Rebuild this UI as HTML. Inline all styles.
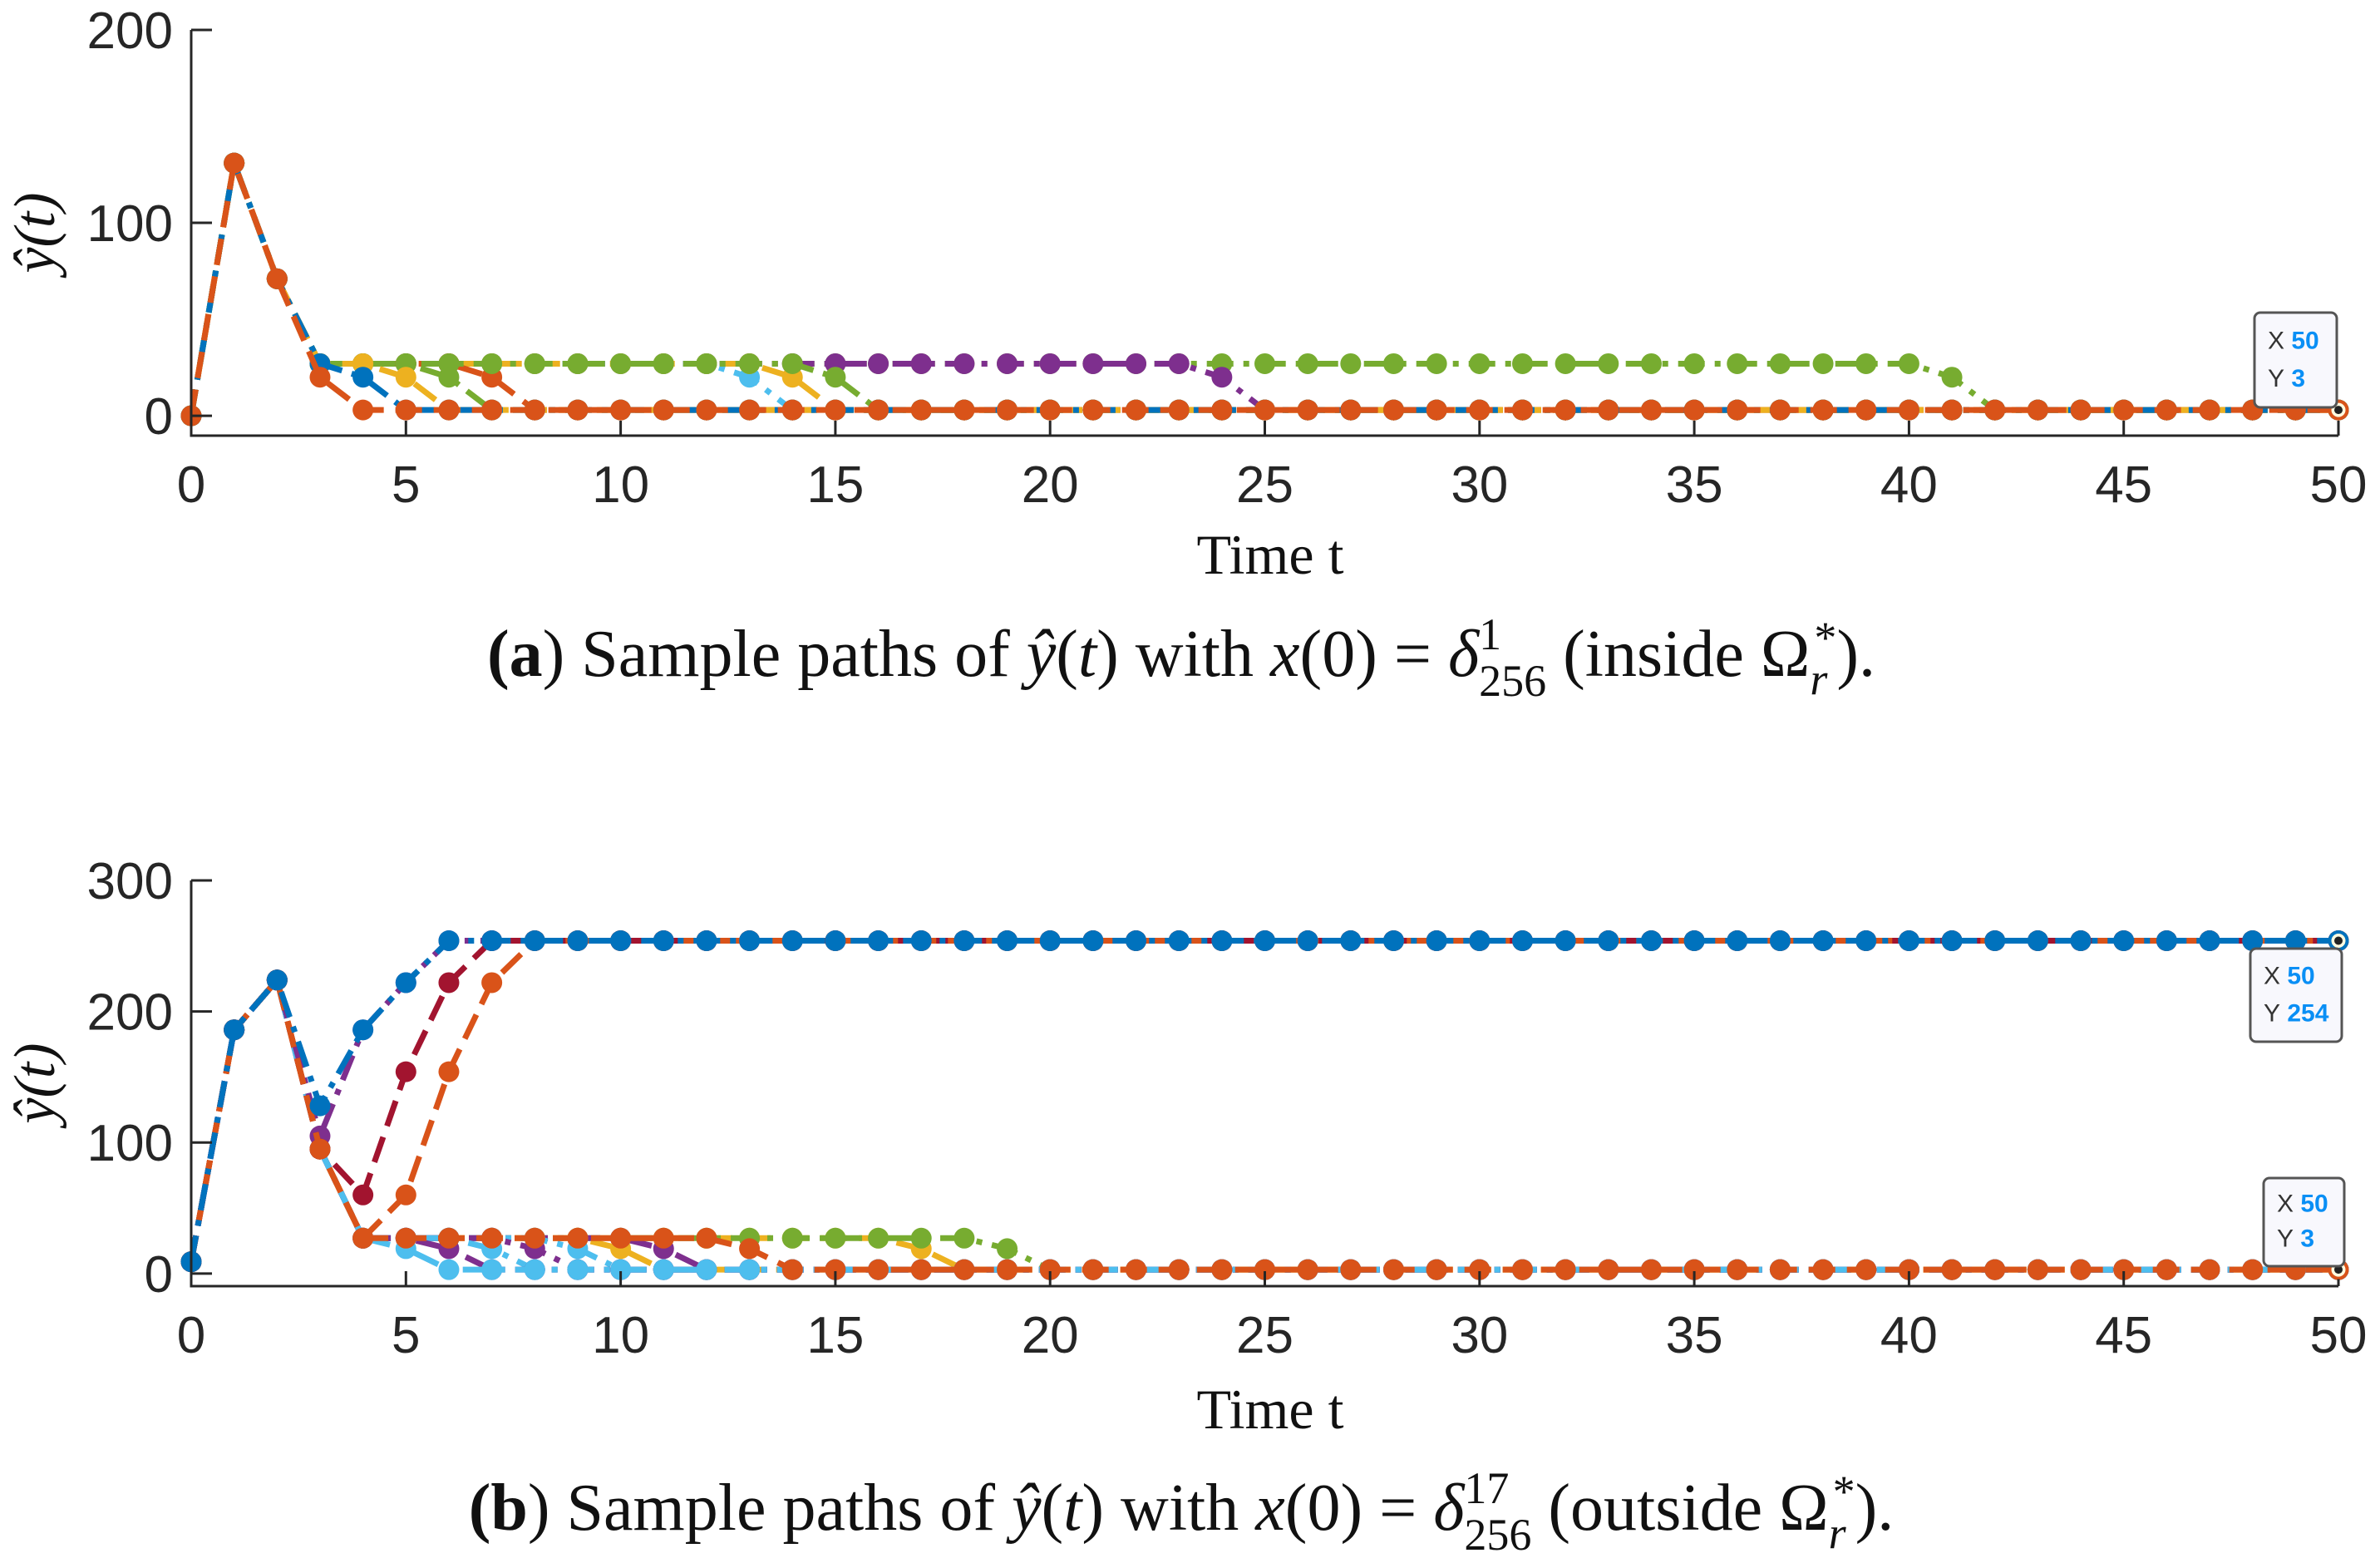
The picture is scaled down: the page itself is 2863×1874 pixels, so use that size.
<!DOCTYPE html>
<html><head><meta charset="utf-8"><style>
html,body{margin:0;padding:0;background:#fff;}
svg{display:block;}
.tick{font-family:"Liberation Sans",sans-serif;font-size:62px;fill:#262626;}
.serif{font-family:"Liberation Serif",serif;fill:#111;}
</style></head><body>
<svg id="fig" width="2863" height="1874" viewBox="0 0 2863 1874" xmlns="http://www.w3.org/2000/svg">
<g id="panelA"></g>
<g id="panelB"></g>
<text class="serif" x="1528" y="690" font-size="68" text-anchor="middle">Time t</text>
<text class="serif" x="1421" y="813" font-size="80" text-anchor="middle"><tspan font-weight="bold">(a</tspan>) Sample paths of <tspan font-style="italic">ŷ</tspan>(<tspan font-style="italic">t</tspan>) with <tspan font-style="italic">x</tspan>(0) = <tspan font-style="italic">δ</tspan><tspan font-size="54" dy="-32">1</tspan><tspan font-size="54" dx="-27" dy="56">256</tspan><tspan dy="-24"> (inside Ω</tspan><tspan font-size="54" font-style="italic" dy="22">r</tspan><tspan font-size="54" dx="-16" dy="-50">*</tspan><tspan dy="28">).</tspan></text>
<text class="serif" x="1528" y="1718" font-size="68" text-anchor="middle">Time t</text>
<text class="serif" x="1421" y="1840" font-size="80" text-anchor="middle"><tspan font-weight="bold">(b</tspan>) Sample paths of <tspan font-style="italic">ŷ</tspan>(<tspan font-style="italic">t</tspan>) with <tspan font-style="italic">x</tspan>(0) = <tspan font-style="italic">δ</tspan><tspan font-size="54" dy="-32">17</tspan><tspan font-size="54" dx="-54" dy="56">256</tspan><tspan dy="-24"> (outside Ω</tspan><tspan font-size="54" font-style="italic" dy="22">r</tspan><tspan font-size="54" dx="-16" dy="-50">*</tspan><tspan dy="28">).</tspan></text>
</svg>
<script>
// ---------- Panel A data (t = 0..50) ----------
const tValues=[0,1,2,3,4,5,6,7,8,9,10,11,12,13,14,15,16,17,18,19,20,21,22,23,24,25,26,27,28,29,30,31,32,33,34,35,36,37,38,39,40,41,42,43,44,45,46,47,48,49,50];
const xTicks=[0,5,10,15,20,25,30,35,40,45,50];
const aYTicks=[0,100,200];
const aGreen3=[0,131,71,27,27,27,27,27,27,27,27,27,27,27,27,27,27,27,27,27,27,27,27,27,27,27,27,27,27,27,27,27,27,27,27,27,27,27,27,27,27,20,3,3,3,3,3,3,3,3,3];
const aPurple=[0,131,71,27,27,27,27,27,27,27,27,27,27,27,27,27,27,27,27,27,27,27,27,27,20,3,3,3,3,3,3,3,3,3,3,3,3,3,3,3,3,3,3,3,3,3,3,3,3,3,3];
const aGreen2=[0,131,71,27,27,27,27,27,27,27,27,27,27,27,27,20,3,3,3,3,3,3,3,3,3,3,3,3,3,3,3,3,3,3,3,3,3,3,3,3,3,3,3,3,3,3,3,3,3,3,3];
const aYellow2=[0,131,71,27,27,27,27,27,27,27,27,27,27,27,20,3,3,3,3,3,3,3,3,3,3,3,3,3,3,3,3,3,3,3,3,3,3,3,3,3,3,3,3,3,3,3,3,3,3,3,3];
const aCyan=[0,131,71,27,27,27,27,27,27,27,27,27,27,20,3,3,3,3,3,3,3,3,3,3,3,3,3,3,3,3,3,3,3,3,3,3,3,3,3,3,3,3,3,3,3,3,3,3,3,3,3];
const aRed2=[0,131,71,27,27,27,27,20,3,3,3,3,3,3,3,3,3,3,3,3,3,3,3,3,3,3,3,3,3,3,3,3,3,3,3,3,3,3,3,3,3,3,3,3,3,3,3,3,3,3,3];
const aGreen1=[0,131,71,27,27,27,20,3,3,3,3,3,3,3,3,3,3,3,3,3,3,3,3,3,3,3,3,3,3,3,3,3,3,3,3,3,3,3,3,3,3,3,3,3,3,3,3,3,3,3,3];
const aYellow1=[0,131,71,27,27,20,3,3,3,3,3,3,3,3,3,3,3,3,3,3,3,3,3,3,3,3,3,3,3,3,3,3,3,3,3,3,3,3,3,3,3,3,3,3,3,3,3,3,3,3,3];
const aBlue=[0,131,71,27,20,3,3,3,3,3,3,3,3,3,3,3,3,3,3,3,3,3,3,3,3,3,3,3,3,3,3,3,3,3,3,3,3,3,3,3,3,3,3,3,3,3,3,3,3,3,3];
const aRed1=[0,131,71,20,3,3,3,3,3,3,3,3,3,3,3,3,3,3,3,3,3,3,3,3,3,3,3,3,3,3,3,3,3,3,3,3,3,3,3,3,3,3,3,3,3,3,3,3,3,3,3];
// ---------- Panel B data ----------
const bYTicks=[0,100,200,300];
const bGreen=[9,186,224,95,27,27,27,27,27,27,27,27,27,27,27,27,27,27,27,19,3,3,3,3,3,3,3,3,3,3,3,3,3,3,3,3,3,3,3,3,3,3,3,3,3,3,3,3,3,3,3];
const bYellow2=[9,186,224,95,27,27,27,27,27,27,27,27,27,27,27,27,27,19,3,3,3,3,3,3,3,3,3,3,3,3,3,3,3,3,3,3,3,3,3,3,3,3,3,3,3,3,3,3,3,3,3];
const bPurple4=[9,186,224,95,27,27,27,27,27,27,27,19,3,3,3,3,3,3,3,3,3,3,3,3,3,3,3,3,3,3,3,3,3,3,3,3,3,3,3,3,3,3,3,3,3,3,3,3,3,3,3];
const bYellow1=[9,186,224,95,27,27,27,27,27,27,19,3,3,3,3,3,3,3,3,3,3,3,3,3,3,3,3,3,3,3,3,3,3,3,3,3,3,3,3,3,3,3,3,3,3,3,3,3,3,3,3];
const bCyan3=[9,186,224,95,27,27,27,27,27,19,3,3,3,3,3,3,3,3,3,3,3,3,3,3,3,3,3,3,3,3,3,3,3,3,3,3,3,3,3,3,3,3,3,3,3,3,3,3,3,3,3];
const bPurple3=[9,186,224,95,27,27,27,27,19,3,3,3,3,3,3,3,3,3,3,3,3,3,3,3,3,3,3,3,3,3,3,3,3,3,3,3,3,3,3,3,3,3,3,3,3,3,3,3,3,3,3];
const bCyan2=[9,186,224,95,27,27,27,19,3,3,3,3,3,3,3,3,3,3,3,3,3,3,3,3,3,3,3,3,3,3,3,3,3,3,3,3,3,3,3,3,3,3,3,3,3,3,3,3,3,3,3];
const bPurple2=[9,186,224,95,27,27,19,3,3,3,3,3,3,3,3,3,3,3,3,3,3,3,3,3,3,3,3,3,3,3,3,3,3,3,3,3,3,3,3,3,3,3,3,3,3,3,3,3,3,3,3];
const bCyan1=[9,186,224,95,27,19,3,3,3,3,3,3,3,3,3,3,3,3,3,3,3,3,3,3,3,3,3,3,3,3,3,3,3,3,3,3,3,3,3,3,3,3,3,3,3,3,3,3,3,3,3];
const bOrangeLow=[9,186,224,95,27,27,27,27,27,27,27,27,27,19,3,3,3,3,3,3,3,3,3,3,3,3,3,3,3,3,3,3,3,3,3,3,3,3,3,3,3,3,3,3,3,3,3,3,3,3,3];
const bPurpleUp=[9,186,224,105,186,222,254,254,254,254,254,254,254,254,254,254,254,254,254,254,254,254,254,254,254,254,254,254,254,254,254,254,254,254,254,254,254,254,254,254,254,254,254,254,254,254,254,254,254,254,254];
const bDarkRedUp=[9,186,224,95,60,154,222,254,254,254,254,254,254,254,254,254,254,254,254,254,254,254,254,254,254,254,254,254,254,254,254,254,254,254,254,254,254,254,254,254,254,254,254,254,254,254,254,254,254,254,254];
const bOrangeUp=[9,186,224,95,27,60,154,222,254,254,254,254,254,254,254,254,254,254,254,254,254,254,254,254,254,254,254,254,254,254,254,254,254,254,254,254,254,254,254,254,254,254,254,254,254,254,254,254,254,254,254];
const bBlueUp=[9,186,224,128,186,222,254,254,254,254,254,254,254,254,254,254,254,254,254,254,254,254,254,254,254,254,254,254,254,254,254,254,254,254,254,254,254,254,254,254,254,254,254,254,254,254,254,254,254,254,254];

const C={blue:'#0072BD',orange:'#D95319',yellow:'#EDB120',purple:'#7E2F8E',green:'#77AC30',cyan:'#4DBEEE',dred:'#A2142F'};
const DASH='32 14', DASHDOT='32 12 7 12';
const NS='http://www.w3.org/2000/svg';
function mk(tag,attrs,parent){const e=document.createElementNS(NS,tag);for(const k in attrs)e.setAttribute(k,attrs[k]);parent.appendChild(e);return e;}

function drawPanel(g,cfg){
  const xS=v=>cfg.x0+(v-0)/(50-0)*(cfg.x1-cfg.x0);
  const yS=v=>cfg.yBot-(v-cfg.ymin)/(cfg.ymax-cfg.ymin)*(cfg.yBot-cfg.yTop);
  cfg.series.forEach(s=>{
    const pts=tValues.map((t,i)=>xS(t)+','+yS(s.data[i])).join(' ');
    const pl=mk('polyline',{points:pts,fill:'none',stroke:s.color,'stroke-width':7,'stroke-dasharray':s.dash},g);
    
    
    tValues.forEach((t,i)=>{
      const c=mk('circle',{cx:xS(t),cy:yS(s.data[i]),r:12.5,fill:s.color},g);
      
      
    });
  });
  const ax=mk('path',{d:`M${cfg.x0},${cfg.yTop} L${cfg.x0},${cfg.yBot} L${cfg.x1},${cfg.yBot}`,fill:'none',stroke:'#262626','stroke-width':3},g);
  
  
  xTicks.forEach(v=>{
    const tk=mk('line',{x1:xS(v),x2:xS(v),y1:cfg.yBot,y2:cfg.yBot-18,stroke:'#262626','stroke-width':3},g);
    
    
    const tx=mk('text',{x:xS(v),y:cfg.yBot+80,'text-anchor':'middle',class:'tick'},g);
    tx.textContent=v;
    
    
  });
  cfg.yTicks.forEach(v=>{
    const tk=mk('line',{x1:cfg.x0,x2:cfg.x0+25,y1:yS(v),y2:yS(v),stroke:'#262626','stroke-width':3},g);
    
    
    const tx=mk('text',{x:cfg.x0-22,y:yS(v)+22,'text-anchor':'end',class:'tick'},g);
    tx.textContent=v;
    
    
  });
  const yl=mk('text',{x:0,y:0,transform:`translate(${cfg.x0-165},${(cfg.yTop+cfg.yBot)/2}) rotate(-90)`,'text-anchor':'middle',class:'serif','font-size':70,'font-style':'italic'},g);
  yl.textContent='ŷ(t)';
  
  
  cfg.tips.forEach(tp=>{
    const px=xS(50), py=yS(tp.y);
    const m=mk('circle',{cx:px,cy:py,r:10,fill:'#fffbe0',stroke:tp.color,'stroke-width':3},g);
    
    
    mk('circle',{cx:px,cy:py,r:5,fill:'#222'},g);
    const gg=mk('g',{},g);
    
    
    mk('rect',{x:tp.bx,y:tp.by,width:tp.bw,height:tp.bh,rx:7,fill:'#f8f8fd',stroke:'#555','stroke-width':3},gg);
    const t1=mk('text',{x:tp.bx+16,y:tp.by+tp.bh*0.38,'font-family':'Liberation Sans,sans-serif','font-size':30,fill:'#333'},gg);
    t1.textContent='X';
    const v1=mk('tspan',{fill:'#0a8ff5','font-weight':'bold'},t1);v1.textContent=' 50';
    const t2=mk('text',{x:tp.bx+16,y:tp.by+tp.bh*0.78,'font-family':'Liberation Sans,sans-serif','font-size':30,fill:'#333'},gg);
    t2.textContent='Y';
    const v2=mk('tspan',{fill:'#0a8ff5','font-weight':'bold'},t2);v2.textContent=' '+tp.y;
  });
}

drawPanel(document.getElementById('panelA'),{
  x0:230,x1:2813,yTop:36,yBot:524,ymin:-10.3,ymax:200,yTicks:aYTicks,
  series:[
    {name:'path-green-3',data:aGreen3,color:C.green,dash:DASHDOT},
    {name:'path-purple',data:aPurple,color:C.purple,dash:DASHDOT},
    {name:'path-cyan',data:aCyan,color:C.cyan,dash:DASHDOT},
    {name:'path-yellow-2',data:aYellow2,color:C.yellow,dash:DASH},
    {name:'path-red-2',data:aRed2,color:C.orange,dash:DASH},
    {name:'path-green-2',data:aGreen2,color:C.green,dash:DASHDOT},
    {name:'path-green-1',data:aGreen1,color:C.green,dash:DASHDOT},
    {name:'path-yellow-1',data:aYellow1,color:C.yellow,dash:DASH},
    {name:'path-blue',data:aBlue,color:C.blue,dash:DASHDOT},
    {name:'path-orange',data:aRed1,color:C.orange,dash:DASH}
  ],
  tips:[{y:3,color:C.orange,bx:2712,by:376,bw:99,bh:114}]
});
drawPanel(document.getElementById('panelB'),{
  x0:230,x1:2813,yTop:1059,yBot:1547,ymin:-9.6,ymax:300,yTicks:bYTicks,
  series:[
    {name:'path-yellow-2',data:bYellow2,color:C.yellow,dash:DASH},
    {name:'path-green',data:bGreen,color:C.green,dash:DASHDOT},
    {name:'path-purple-4',data:bPurple4,color:C.purple,dash:DASHDOT},
    {name:'path-yellow-1',data:bYellow1,color:C.yellow,dash:DASH},
    {name:'path-cyan-3',data:bCyan3,color:C.cyan,dash:DASHDOT},
    {name:'path-purple-3',data:bPurple3,color:C.purple,dash:DASHDOT},
    {name:'path-cyan-2',data:bCyan2,color:C.cyan,dash:DASHDOT},
    {name:'path-purple-2',data:bPurple2,color:C.purple,dash:DASHDOT},
    {name:'path-cyan-1',data:bCyan1,color:C.cyan,dash:DASHDOT},
    {name:'path-orange-low',data:bOrangeLow,color:C.orange,dash:DASH},
    {name:'path-purple-up',data:bPurpleUp,color:C.purple,dash:DASHDOT},
    {name:'path-darkred-up',data:bDarkRedUp,color:C.dred,dash:DASH},
    {name:'path-orange-up',data:bOrangeUp,color:C.orange,dash:DASH},
    {name:'path-blue-up',data:bBlueUp,color:C.blue,dash:DASHDOT}
  ],
  tips:[{y:254,color:C.blue,bx:2707,by:1141,bw:110,bh:112},{y:3,color:C.orange,bx:2723,by:1417,bw:97,bh:106}]
});
</script>
</body></html>
